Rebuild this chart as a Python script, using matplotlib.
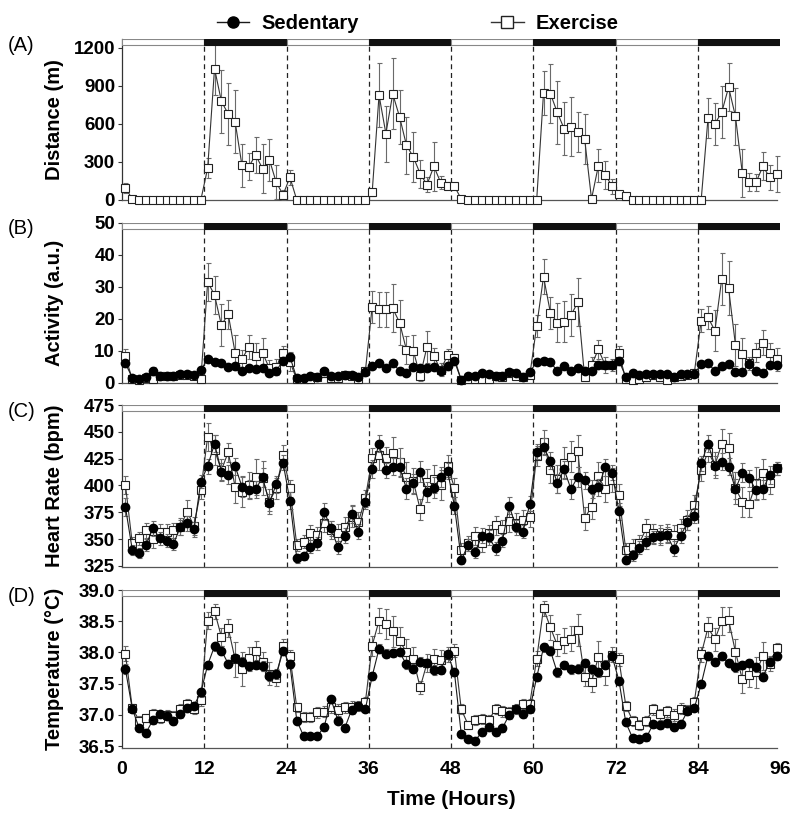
import matplotlib
matplotlib.use('Agg')
import matplotlib.pyplot as plt
from matplotlib.patches import Rectangle
from matplotlib.lines import Line2D
import numpy as np

plt.rcParams['font.family'] = ['Liberation Sans', 'DejaVu Sans']
plt.rcParams['font.weight'] = 'bold'
plt.rcParams['axes.labelweight'] = 'bold'

# ---------------- data ----------------
hours = np.arange(0.5, 96, 1.0)
x_ticks = [0, 12, 24, 36, 48, 60, 72, 84, 96]
phase_starts = [0, 12, 24, 36, 48, 60, 72, 84]
phase_dark = [False, True, False, True, False, True, False, True]
series_names = ['Sedentary', 'Exercise']

# (A) Distance (m) - exercise only
dist_ex = [95, 8, 0, 0, 0, 0, 0, 0, 0, 0, 0, 0,
           252, 1035, 777, 677, 617, 273, 263, 354, 247, 318, 139, 42,
           179, 0, 0, 0, 0, 0, 0, 0, 0, 0, 0, 0,
           60, 825, 523, 835, 654, 431, 339, 207, 121, 265, 137, 113,
           108, 8, 0, 0, 0, 0, 0, 0, 0, 0, 0, 0,
           0, 843, 838, 690, 562, 578, 536, 480, 8, 270, 200, 108,
           47, 29, 0, 0, 0, 0, 0, 0, 0, 0, 0, 0,
           0, 646, 601, 690, 888, 659, 213, 139, 139, 265, 179, 205]
dist_ex_err = [40, 5, 0, 0, 0, 0, 0, 0, 0, 0, 0, 0,
               80, 210, 250, 245, 245, 170, 105, 140, 190, 165, 135, 40,
               60, 0, 0, 0, 0, 0, 0, 0, 0, 0, 0, 0,
               30, 250, 220, 280, 210, 225, 200, 110, 60, 195, 50, 30,
               20, 5, 0, 0, 0, 0, 0, 0, 0, 0, 0, 0,
               0, 170, 230, 250, 210, 230, 160, 200, 10, 130, 110, 60,
               20, 10, 0, 0, 0, 0, 0, 0, 0, 0, 0, 0,
               0, 160, 165, 205, 190, 225, 190, 70, 65, 110, 100, 145]

# (B) Activity (a.u.)
act_sed = [6.0, 1.6, 1.1, 1.9, 3.75, 2.1, 2.1, 2.1, 2.7, 2.7, 2.4, 4.0,
           7.3, 6.6, 6.0, 5.0, 5.2, 3.75, 4.5, 4.2, 4.5, 3.1, 3.75, 6.9,
           8.1, 1.4, 1.4, 2.1, 1.7, 3.75, 2.1, 2.2, 2.5, 2.3, 1.7, 3.4,
           5.2, 6.0, 4.5, 6.0, 3.75, 2.9, 5.0, 4.5, 4.5, 5.0, 3.75, 5.2,
           6.8, 0.8, 2.1, 2.1, 3.1, 2.7, 2.1, 2.1, 3.4, 3.1, 1.9, 3.4,
           6.4, 6.9, 6.4, 3.75, 5.2, 3.75, 4.7, 3.75, 3.75, 5.5, 5.5, 5.5,
           6.9, 1.9, 2.9, 2.4, 2.7, 2.7, 2.7, 2.7, 1.9, 2.7, 2.7, 2.7,
           5.8, 6.0, 3.75, 5.2, 5.8, 3.4, 3.4, 5.8, 3.75, 2.9, 5.5, 5.5]
act_sed_err = [1.0, 0.5, 0.4, 0.5, 1.2, 0.5, 0.5, 0.5, 0.6, 0.6, 0.6, 0.8,
               0.8, 0.7, 0.7, 0.8, 0.8, 0.7, 0.8, 0.8, 0.9, 0.8, 0.8, 1.0,
               1.2, 0.4, 0.4, 0.5, 0.4, 0.8, 0.5, 0.5, 0.6, 0.5, 0.4, 0.7,
               0.8, 0.8, 0.7, 0.9, 0.8, 0.6, 0.9, 0.9, 0.8, 0.9, 0.8, 0.9,
               1.0, 0.3, 0.5, 0.5, 0.6, 0.6, 0.5, 0.5, 0.7, 0.7, 0.4, 0.7,
               0.9, 0.9, 0.8, 0.7, 0.8, 0.7, 0.8, 0.7, 0.7, 0.9, 0.9, 0.9,
               1.0, 0.4, 0.5, 0.5, 0.5, 0.5, 0.5, 0.5, 0.4, 0.5, 0.5, 0.5,
               0.9, 0.9, 0.7, 0.8, 0.9, 0.7, 0.7, 0.9, 0.7, 0.6, 0.9, 0.9]
act_ex = [8.3, 1.0, 0.8, 1.5, 1.2, 2.0, 2.0, 2.0, 2.5, 2.5, 2.0, 1.0,
          31.5, 27.4, 18.0, 21.4, 9.4, 7.3, 11.2, 8.3, 9.4, 4.5, 5.0, 9.4,
          6.5, 1.0, 1.2, 1.0, 1.8, 3.0, 1.5, 1.6, 2.4, 2.0, 1.2, 3.5,
          23.8, 22.9, 22.9, 23.2, 18.8, 10.2, 10.0, 2.1, 11.25, 8.3, 4.0, 8.6,
          7.6, 0.8, 1.0, 1.3, 1.0, 1.0, 2.0, 1.9, 2.9, 2.1, 1.9, 2.4,
          17.7, 33.1, 21.9, 18.75, 19.1, 21.1, 25.1, 1.7, 5.5, 10.4, 5.5, 5.5,
          9.4, 1.0, 0.8, 1.0, 1.9, 2.4, 1.9, 0.8, 1.9, 2.1, 2.4, 3.1,
          19.4, 20.4, 16.25, 32.4, 29.5, 11.8, 9.0, 6.0, 9.4, 12.5, 9.4, 7.3]
act_ex_err = [2.2, 0.6, 0.5, 0.8, 0.7, 0.9, 0.9, 0.9, 1.0, 1.0, 0.9, 0.6,
              6.0, 6.0, 6.5, 4.5, 5.5, 3.0, 3.8, 4.0, 4.5, 2.5, 2.5, 2.2,
              3.0, 0.6, 0.6, 0.6, 0.8, 1.2, 0.7, 0.7, 1.0, 0.9, 0.6, 1.3,
              5.0, 5.5, 5.5, 7.5, 7.0, 4.5, 5.0, 1.5, 5.0, 2.5, 2.0, 2.0,
              1.5, 0.5, 0.6, 0.7, 0.6, 0.6, 0.9, 0.9, 1.1, 0.9, 0.9, 1.0,
              3.5, 5.5, 5.0, 6.0, 6.5, 6.5, 7.5, 1.0, 2.5, 3.0, 2.5, 2.0,
              2.0, 0.6, 0.5, 0.6, 0.8, 1.0, 0.8, 0.5, 0.8, 0.9, 1.0, 1.2,
              3.5, 3.5, 6.5, 8.0, 8.5, 6.5, 5.0, 2.0, 3.0, 4.0, 3.0, 3.5]

# (C) Heart Rate (bpm)
hr_sed = [380, 340, 337, 344.5, 360, 351, 348.6, 345.5, 361, 364.7, 359, 403.6,
          418, 439, 413, 410, 418, 399, 396, 396.4, 407.6, 384, 401, 421,
          386, 332, 334.3, 343, 346, 375.6, 360, 342.4, 353, 373.4, 357, 385,
          415.4, 439, 414.4, 417.5, 417, 397, 402, 413, 394, 398, 408, 413.5,
          381, 330.6, 344.5, 337.7, 353, 351.7, 341.4, 348.6, 381, 361, 357, 382.8,
          431.5, 436, 423, 402, 415, 396.7, 408, 405, 396.7, 398.3, 417, 412,
          376, 330.6, 335, 342, 347, 351.7, 353, 354, 341, 353, 365.7, 371.6,
          420.6, 439, 418.5, 422, 417.5, 396.7, 412, 406.7, 395.8, 396.4, 409.8, 416]
hr_sed_err = [8, 5, 5, 6, 7, 6, 6, 6, 7, 7, 7, 6,
              7, 8, 8, 9, 8, 10, 9, 8, 9, 8, 8, 7,
              8, 4, 4, 6, 6, 8, 7, 6, 7, 8, 7, 7,
              8, 8, 7, 8, 9, 10, 9, 10, 9, 10, 9, 7,
              8, 4, 6, 5, 7, 7, 6, 6, 8, 7, 6, 7,
              7, 8, 8, 9, 8, 9, 9, 8, 8, 8, 8, 7,
              8, 4, 5, 6, 6, 6, 7, 7, 7, 7, 7, 7,
              7, 8, 9, 8, 8, 9, 9, 8, 9, 9, 8, 6]
hr_ex = [400.5, 346, 350.8, 358.5, 349.8, 357, 357, 358.5, 361.6, 375.6, 362.3, 395.8,
         445.5, 433, 414.4, 431, 399, 394, 400.5, 408, 406.7, 385, 397.3, 428.4,
         397.3, 344.5, 347.6, 356, 354, 364.7, 358.5, 356, 361.6, 371, 366.3, 388,
         425.3, 428.4, 425.3, 430, 422.2, 408, 404, 377.8, 403.6, 405.7, 400.5, 418.2,
         398, 340, 346, 353, 346.7, 355.4, 363, 359, 367, 365.4, 367.8, 371,
         427.5, 440.8, 414.4, 405.7, 421.3, 427, 432.4, 369.4, 380.3, 408.8, 396.4, 405,
         391, 340, 343, 346.7, 360, 355.4, 354, 355.4, 354, 360, 367.8, 381.8,
         414.4, 431.5, 419, 438.7, 434.6, 397.3, 385, 382.8, 402, 412, 402, 416]
hr_ex_err = [8, 6, 6, 7, 8, 7, 7, 7, 8, 11, 8, 8,
             13, 14, 10, 9, 15, 14, 12, 17, 16, 12, 10, 9,
             8, 6, 6, 7, 7, 8, 8, 8, 9, 10, 9, 8,
             10, 14, 11, 15, 13, 14, 12, 10, 12, 13, 14, 10,
             9, 6, 7, 8, 9, 8, 9, 9, 10, 9, 9, 10,
             9, 11, 12, 13, 15, 14, 15, 11, 12, 13, 12, 11,
             10, 6, 7, 7, 9, 9, 9, 9, 9, 9, 9, 9,
             10, 10, 12, 14, 14, 15, 14, 12, 15, 13, 10, 6]

# (D) Temperature (°C)
temp_sed = [37.73, 37.10, 36.79, 36.71, 36.92, 37.01, 36.99, 36.90, 37.01, 37.11, 37.15, 37.36,
            37.80, 38.10, 38.03, 37.82, 37.91, 37.85, 37.78, 37.80, 37.78, 37.63, 37.66, 38.02,
            37.81, 36.91, 36.66, 36.66, 36.66, 36.81, 37.25, 36.91, 36.79, 37.08, 37.14, 37.09,
            37.62, 38.06, 37.98, 37.99, 38.00, 37.81, 37.74, 37.85, 37.83, 37.72, 37.72, 37.97,
            37.68, 36.69, 36.61, 36.59, 36.72, 36.80, 36.73, 36.79, 37.00, 37.10, 37.01, 37.09,
            37.60, 38.08, 38.03, 37.68, 37.80, 37.73, 37.74, 37.83, 37.73, 37.68, 37.80, 37.94,
            37.55, 36.88, 36.63, 36.61, 36.64, 36.85, 36.84, 36.87, 36.80, 36.85, 37.06, 37.11,
            37.49, 37.95, 37.85, 37.94, 37.83, 37.76, 37.80, 37.83, 37.76, 37.61, 37.85, 37.94]
temp_sed_err = [0.08, 0.06, 0.05, 0.06, 0.06, 0.06, 0.06, 0.06, 0.06, 0.06, 0.06, 0.07,
                0.06, 0.07, 0.07, 0.06, 0.07, 0.07, 0.07, 0.07, 0.08, 0.08, 0.08, 0.06,
                0.06, 0.05, 0.05, 0.05, 0.05, 0.06, 0.06, 0.06, 0.06, 0.06, 0.05, 0.05,
                0.06, 0.07, 0.07, 0.06, 0.06, 0.07, 0.07, 0.07, 0.07, 0.08, 0.07, 0.06,
                0.06, 0.05, 0.05, 0.05, 0.05, 0.06, 0.06, 0.06, 0.06, 0.06, 0.06, 0.05,
                0.06, 0.07, 0.07, 0.07, 0.07, 0.07, 0.07, 0.07, 0.07, 0.07, 0.07, 0.06,
                0.06, 0.05, 0.05, 0.05, 0.05, 0.06, 0.06, 0.06, 0.06, 0.06, 0.05, 0.05,
                0.06, 0.06, 0.06, 0.06, 0.06, 0.07, 0.07, 0.07, 0.07, 0.07, 0.07, 0.06]
temp_ex = [37.98, 37.11, 36.91, 36.95, 37.01, 36.95, 37.00, 36.99, 37.09, 37.17, 37.09, 37.24,
           38.51, 38.66, 38.25, 38.39, 37.89, 37.73, 37.91, 38.03, 37.85, 37.66, 37.59, 38.10,
           37.94, 37.12, 36.97, 36.97, 37.04, 37.05, 37.12, 37.08, 37.12, 37.13, 37.15, 37.20,
           38.11, 38.51, 38.45, 38.34, 38.18, 38.01, 37.89, 37.44, 37.83, 37.89, 37.88, 37.96,
           38.03, 37.09, 36.84, 36.92, 36.93, 36.92, 37.09, 37.06, 37.04, 37.09, 37.17, 37.18,
           37.90, 38.71, 38.40, 38.12, 38.19, 38.22, 38.36, 37.61, 37.52, 37.93, 37.68, 37.96,
           37.89, 37.15, 36.91, 36.84, 36.91, 37.09, 37.01, 37.06, 37.00, 37.10, 37.08, 37.21,
           37.97, 38.40, 38.21, 38.50, 38.52, 38.01, 37.57, 37.64, 37.68, 37.94, 37.82, 38.07]
temp_ex_err = [0.12, 0.06, 0.07, 0.07, 0.08, 0.08, 0.08, 0.08, 0.09, 0.09, 0.08, 0.09,
               0.14, 0.12, 0.14, 0.15, 0.28, 0.27, 0.17, 0.15, 0.15, 0.18, 0.13, 0.12,
               0.10, 0.07, 0.08, 0.08, 0.09, 0.09, 0.09, 0.09, 0.09, 0.09, 0.08, 0.08,
               0.16, 0.20, 0.24, 0.25, 0.22, 0.20, 0.20, 0.10, 0.15, 0.17, 0.16, 0.12,
               0.10, 0.08, 0.07, 0.08, 0.08, 0.08, 0.08, 0.09, 0.09, 0.08, 0.08, 0.08,
               0.12, 0.12, 0.20, 0.18, 0.20, 0.20, 0.25, 0.15, 0.15, 0.25, 0.20, 0.12,
               0.10, 0.08, 0.08, 0.08, 0.08, 0.09, 0.09, 0.09, 0.09, 0.09, 0.08, 0.08,
               0.12, 0.16, 0.18, 0.22, 0.20, 0.20, 0.22, 0.20, 0.25, 0.22, 0.12, 0.08]

# ---------------- figure ----------------
W, H = 800, 813
fig = plt.figure(figsize=(W / 100, H / 100), dpi=100)

x0, x1 = 122, 780
panels = [
    dict(top=39.3, bot=200.0, ylim=(0, 1265), ticks=[0, 300, 600, 900, 1200],
         bar=(1218, 1265), label='Distance (m)', tag='(A)', fmt='%d',
         sed=None, sed_err=None, ex=dist_ex, ex_err=dist_ex_err),
    dict(top=222.7, bot=382.7, ylim=(0, 50), ticks=[0, 10, 20, 30, 40, 50],
         bar=(48.1, 50), label='Activity (a.u.)', tag='(B)', fmt='%d',
         sed=act_sed, sed_err=act_sed_err, ex=act_ex, ex_err=act_ex_err),
    dict(top=405.0, bot=566.5, ylim=(324.5, 475), ticks=[325, 350, 375, 400, 425, 450, 475],
         bar=(469.0, 475), label='Heart Rate (bpm)', tag='(C)', fmt='%d',
         sed=hr_sed, sed_err=hr_sed_err, ex=hr_ex, ex_err=hr_ex_err),
    dict(top=590.0, bot=748.0, ylim=(36.47, 39.0), ticks=[36.5, 37.0, 37.5, 38.0, 38.5, 39.0],
         bar=(38.91, 39.0), label='Temperature (°C)', tag='(D)', fmt='%.1f',
         sed=temp_sed, sed_err=temp_sed_err, ex=temp_ex, ex_err=temp_ex_err),
]

spine_col = '#555555'
line_col = '#1a1a1a'
err_col = '#6a6a6a'

for i, p in enumerate(panels):
    ax = fig.add_axes([x0 / W, 1 - p['bot'] / H, (x1 - x0) / W, (p['bot'] - p['top']) / H])
    ax.set_xlim(0, 96)
    ax.set_ylim(*p['ylim'])
    for s in ['top', 'right']:
        ax.spines[s].set_visible(False)
    ax.spines['left'].set_color('#333333')
    ax.spines['left'].set_linewidth(0.9)
    ax.spines['bottom'].set_color(spine_col)
    ax.spines['bottom'].set_linewidth(0.9)
    ax.spines['bottom'].set_bounds(0, 95.6)

    # light/dark bar
    b0, b1 = p['bar']
    for xs, dark in zip(phase_starts, phase_dark):
        ax.add_patch(Rectangle((xs, b0), 12, b1 - b0,
                               facecolor='#111111' if dark else 'white',
                               edgecolor='#111111' if dark else '#888888',
                               lw=0.8, zorder=5))
    # dashed lines at phase changes
    ax.vlines(phase_starts[1:], p['ylim'][0], b0, colors='#222222',
              linestyles=(0, (4, 3)), lw=0.9, zorder=1)

    # exercise series
    eb = ax.errorbar(hours, p['ex'], yerr=p['ex_err'], fmt='-s', color='#333333',
                     mfc='white', mec='#222222', ms=5.2, mew=0.8, lw=0.8,
                     ecolor=err_col, elinewidth=0.8, capsize=1.8, capthick=0.8, zorder=3)
    eb[0].set_clip_on(False)
    # sedentary series
    if p['sed'] is not None:
        eb2 = ax.errorbar(hours, p['sed'], yerr=p['sed_err'], fmt='-o', color=line_col,
                          mfc='black', mec='black', ms=6, lw=0.8,
                          ecolor=err_col, elinewidth=0.8, capsize=1.8, capthick=0.8, zorder=4)
        eb2[0].set_clip_on(False)

    ax.set_yticks(p['ticks'])
    ax.set_yticklabels([p['fmt'] % t for t in p['ticks']])
    ax.tick_params(axis='y', labelsize=13.5, length=3, width=0.8, color='#333333', pad=2)
    ax.set_xticks(x_ticks)
    ax.tick_params(axis='x', length=0, labelsize=14, pad=9)
    if i < 3:
        ax.set_xticklabels([])
    else:
        ax.set_xlabel('Time (Hours)', fontsize=15, labelpad=9)
    ax.set_ylabel(p['label'], fontsize=14.5)
    ax.yaxis.set_label_coords(-0.088, 0.5)

    yc = p['top'] + 6
    fig.text(8 / W, 1 - yc / H, p['tag'], fontsize=14.5, fontweight='normal',
             ha='left', va='center')

# legend
handles = [Line2D([], [], color=line_col, marker='o', mfc='black', mec='black', ms=8, lw=1.0),
           Line2D([], [], color='#333333', marker='s', mfc='white', mec='#222222', ms=8, lw=1.0)]
fig.legend(handles, series_names, loc='upper center', bbox_to_anchor=(0.522, 1.0),
           ncol=2, frameon=False, fontsize=14.5, columnspacing=6.6,
           handlelength=1.6, handletextpad=0.6, borderaxespad=0.3)

fig.savefig('out.png', dpi=100)
